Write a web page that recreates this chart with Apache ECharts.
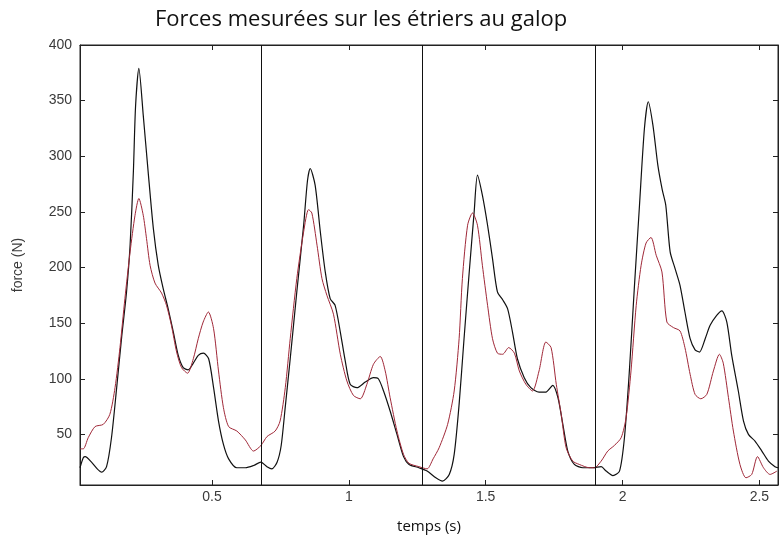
<!DOCTYPE html>
<html>
<head>
<meta charset="utf-8">
<script src="https://cdn.jsdelivr.net/npm/echarts@6/dist/echarts.min.js"></script>
<style>html,body{margin:0;padding:0;background:#fff}#c{width:779px;height:539px}</style>
</head>
<body>
<div id="c"></div>
<script>
// Black series (time s, force N)
const timeBlack = [0.018,0.030,0.037,0.060,0.081,0.097,0.115,0.133,0.152,0.170,0.188,0.201,0.213,0.221,0.233,0.249,0.267,0.286,0.304,0.322,0.340,0.359,0.377,0.395,0.413,0.432,0.450,0.469,0.488,0.506,0.524,0.542,0.561,0.591,0.622,0.652,0.679,0.701,0.719,0.738,0.753,0.768,0.786,0.810,0.835,0.849,0.859,0.877,0.896,0.914,0.932,0.950,0.969,0.987,1.005,1.030,1.060,1.090,1.108,1.127,1.151,1.176,1.200,1.220,1.256,1.286,1.318,1.342,1.367,1.385,1.403,1.421,1.440,1.458,1.470,1.488,1.507,1.525,1.543,1.562,1.580,1.598,1.616,1.641,1.665,1.695,1.720,1.745,1.764,1.782,1.800,1.824,1.855,1.891,1.922,1.940,1.965,1.989,2.007,2.025,2.043,2.062,2.080,2.094,2.111,2.129,2.145,2.158,2.174,2.192,2.210,2.228,2.247,2.265,2.281,2.302,2.320,2.344,2.363,2.381,2.399,2.423,2.442,2.460,2.484,2.509,2.533,2.557,2.568];
const forceBlack = [20,29,30,25,19,16,21,47,92,137,178,220,286,345,379,337,286,235,202,181,163,142,121,110,108,114,121,123,118,92,62,41,28,20,20,22,25,21,19,25,40,75,118,178,238,278,289,274,232,196,172,166,142,116,95,92,97,101,100,89,71,50,30,23,20,17,11,8,14,32,77,136,196,250,283,265,238,208,178,171,163,142,118,101,92,88,88,94,83,59,35,23,20,20,21,17,13,17,47,107,181,256,325,349,328,292,270,256,214,199,184,160,136,126,124,136,148,157,161,151,121,89,62,50,44,35,26,21,20];
// Red series (time s, force N)
const timeRed = [0.018,0.030,0.048,0.073,0.103,0.127,0.146,0.164,0.182,0.201,0.219,0.233,0.249,0.261,0.274,0.292,0.316,0.334,0.352,0.371,0.389,0.411,0.432,0.450,0.468,0.487,0.506,0.524,0.542,0.561,0.591,0.622,0.652,0.679,0.701,0.731,0.749,0.768,0.786,0.810,0.835,0.853,0.865,0.884,0.902,0.920,0.944,0.969,0.993,1.017,1.042,1.066,1.090,1.115,1.133,1.151,1.176,1.200,1.220,1.256,1.286,1.308,1.330,1.361,1.385,1.403,1.415,1.434,1.452,1.470,1.488,1.507,1.525,1.543,1.562,1.584,1.605,1.623,1.647,1.671,1.695,1.720,1.739,1.758,1.776,1.794,1.818,1.842,1.879,1.897,1.922,1.946,1.970,1.995,2.013,2.031,2.050,2.068,2.086,2.104,2.123,2.144,2.162,2.186,2.210,2.228,2.247,2.265,2.286,2.308,2.332,2.354,2.368,2.387,2.405,2.429,2.451,2.472,2.493,2.515,2.539,2.564];
const forceRed = [37,37,47,57,59,68,92,128,172,214,247,262,247,226,202,186,177,166,148,124,110,105,118,136,151,160,145,107,74,57,53,45,35,40,48,53,62,92,136,190,232,252,249,220,190,175,158,122,98,85,82,95,113,120,107,83,53,32,24,21,19,28,38,59,89,136,190,238,249,238,202,166,136,123,122,128,123,107,95,89,107,133,128,95,68,38,26,23,20,20,26,35,40,47,65,107,166,202,222,227,211,196,151,146,143,128,104,86,82,86,107,122,114,83,53,23,11,14,30,20,14,17];
// Vertical separators (s)
const strideTimes = [0.679, 1.266, 1.897];
// Tick labels
const xTicks = [0.5, 1, 1.5, 2, 2.5];
const yTicks = [50, 100, 150, 200, 250, 300, 350, 400];

const pair = (t, v) => t.map((x, i) => [x, v[i]]);
const chart = echarts.init(document.getElementById('c'), null, {renderer: 'canvas'});
const labelFont = {fontFamily: 'Liberation Sans, Arial, sans-serif', fontSize: 14, color: '#3a3a3a'};
const xMin = 0.018, xMax = 2.568, yMin = 4.5, yMax = 400;
chart.setOption({
  animation: false,
  backgroundColor: '#fff',
  title: {
    text: 'Forces mesurées sur les étriers au galop',
    left: 150, top: 4,
    textStyle: {fontFamily: 'Open Sans, sans-serif', fontSize: 22, fontWeight: 'normal', color: '#111'}
  },
  grid: {left: 80, right: 1, top: 45, bottom: 51, show: true, borderColor: '#222', borderWidth: 1, backgroundColor: 'transparent'},
  xAxis: [{
    type: 'value', min: xMin, max: xMax, position: 'bottom',
    name: 'temps (s)', nameLocation: 'middle', nameGap: 34,
    nameTextStyle: {fontFamily: 'Open Sans, sans-serif', fontSize: 15, color: '#111'},
    axisLine: {show: true, onZero: false, lineStyle: {color: '#222'}},
    axisTick: {show: true, inside: true, length: 5, customValues: xTicks, lineStyle: {color: '#222'}},
    axisLabel: Object.assign({customValues: xTicks, margin: 5}, labelFont),
    splitLine: {show: false}
  }, {
    type: 'value', min: xMin, max: xMax, position: 'top',
    axisLine: {show: true, onZero: false, lineStyle: {color: '#222'}},
    axisTick: {show: true, inside: true, length: 5, customValues: xTicks, lineStyle: {color: '#222'}},
    axisLabel: {show: false}, splitLine: {show: false}
  }],
  yAxis: [{
    type: 'value', min: yMin, max: yMax, position: 'left',
    name: 'force (N)', nameLocation: 'middle', nameGap: 55, nameRotate: 90,
    nameTextStyle: {fontFamily: 'Liberation Sans, Arial, sans-serif', fontSize: 14, color: '#3a3a3a'},
    axisLine: {show: true, onZero: false, lineStyle: {color: '#222'}},
    axisTick: {show: true, inside: true, length: 5, customValues: yTicks, lineStyle: {color: '#222'}},
    axisLabel: Object.assign({customValues: yTicks, margin: 8}, labelFont),
    splitLine: {show: false}
  }, {
    type: 'value', min: yMin, max: yMax, position: 'right',
    axisLine: {show: true, onZero: false, lineStyle: {color: '#222'}},
    axisTick: {show: true, inside: true, length: 5, customValues: yTicks, lineStyle: {color: '#222'}},
    axisLabel: {show: false}, splitLine: {show: false}
  }],
  series: [{
    type: 'line', name: 'noir', data: pair(timeBlack, forceBlack),
    showSymbol: false, smooth: 0.25, lineStyle: {color: '#111', width: 1.2}, z: 2,
    markLine: {
      silent: true, symbol: ['none', 'none'], label: {show: false},
      lineStyle: {color: '#111', width: 1, type: 'solid'},
      data: strideTimes.map(t => ({xAxis: t}))
    }
  }, {
    type: 'line', name: 'rouge', data: pair(timeRed, forceRed),
    showSymbol: false, smooth: 0.25, lineStyle: {color: '#a02838', width: 1}, z: 3
  }]
});
</script>
</body>
</html>
